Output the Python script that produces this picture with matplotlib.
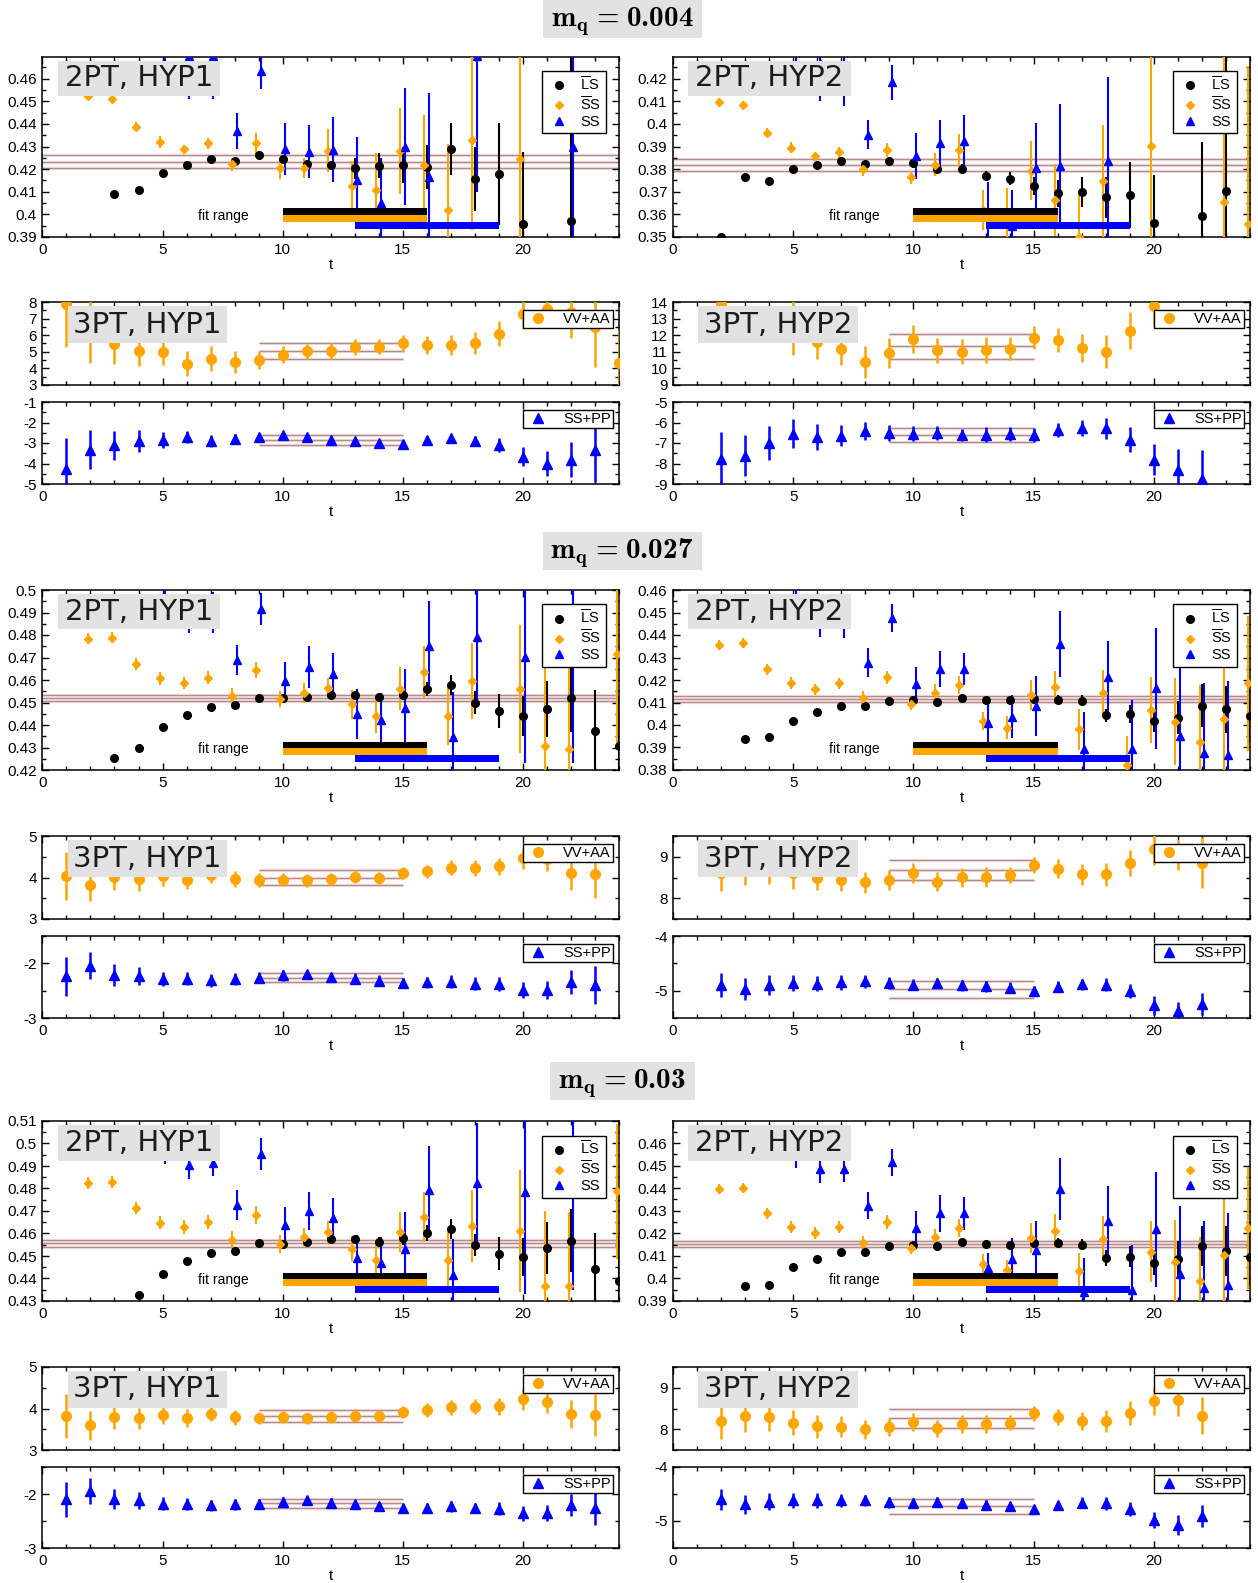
import numpy as np
import matplotlib
matplotlib.use("Agg")
import matplotlib.pyplot as plt
from matplotlib.patches import Rectangle
from matplotlib.lines import Line2D
from matplotlib.ticker import MultipleLocator, FuncFormatter

nan = np.nan
t = np.arange(25)

MASSES = ["0.004", "0.027", "0.03"]

# fit windows (first, last timeslice)
FIT_RANGE_LS = (10, 16)
FIT_RANGE_SB = (10, 16)
FIT_RANGE_SS = (13, 19)
FIT_RANGE_3PT = (9, 15)

# ---------------- m_q = 0.004 : two-point ----------------
LS_004_H1 = [nan, nan, nan, 0.4090, 0.4110, 0.4183, 0.4218, 0.4245, 0.4236, 0.4264, 0.4245, 0.4223, 0.4218,
             0.4203, 0.4215, 0.4218, 0.4208, 0.4291, 0.4156, 0.4177, 0.3956, nan, 0.3971, nan, nan]
LS_004_H1_ERR = [nan, nan, nan, 0.0005, 0.0005, 0.0006, 0.0007, 0.0008, 0.0010, 0.0010, 0.0015, 0.0015, 0.0015,
                 0.0045, 0.0055, 0.0080, 0.0098, 0.0115, 0.0140, 0.0225, 0.0320, nan, 0.0800, nan, nan]
SB_004_H1 = [nan, nan, 0.4522, 0.4510, 0.4387, 0.4320, 0.4288, 0.4314, 0.4221, 0.4314, 0.4203, 0.4206, 0.4282,
             0.4127, 0.4110, 0.4280, 0.4220, 0.4021, 0.4331, nan, 0.4243, nan, nan, nan, nan]
SB_004_H1_ERR = [nan, nan, 0.0015, 0.0015, 0.0020, 0.0025, 0.0020, 0.0025, 0.0030, 0.0045, 0.0045, 0.0045, 0.0095,
                 0.0110, 0.0160, 0.0190, 0.0220, 0.0290, 0.0400, nan, 0.0700, nan, nan, nan, nan]
SS_004_H1 = [nan, nan, nan, nan, nan, 0.4800, 0.4700, 0.4700, 0.4369, 0.4634, 0.4289, 0.4277, 0.4286,
             0.4152, 0.4050, 0.4300, 0.4166, nan, 0.4700, nan, nan, nan, 0.4300, nan, nan]
SS_004_H1_ERR = [nan, nan, nan, nan, nan, 0.0120, 0.0190, 0.0190, 0.0080, 0.0080, 0.0115, 0.0118, 0.0145,
                 0.0190, 0.0200, 0.0260, 0.0370, nan, 0.0600, nan, nan, nan, 0.0800, nan, nan]
FIT_004_H1 = (0.4233, 0.0029)

LS_004_H2 = [nan, nan, 0.3500, 0.3765, 0.3746, 0.3799, 0.3818, 0.3835, 0.3821, 0.3835, 0.3829, 0.3800, 0.3802,
             0.3770, 0.3758, 0.3727, 0.3693, 0.3699, 0.3675, 0.3685, 0.3564, nan, 0.3591, 0.3703, nan]
LS_004_H2_ERR = [nan, nan, 0.0005, 0.0005, 0.0005, 0.0006, 0.0007, 0.0008, 0.0010, 0.0015, 0.0015, 0.0020, 0.0020,
                 0.0020, 0.0030, 0.0040, 0.0060, 0.0065, 0.0090, 0.0145, 0.0210, nan, 0.0330, 0.0650, nan]
SB_004_H2 = [nan, nan, 0.4096, 0.4083, 0.3960, 0.3895, 0.3858, 0.3875, 0.3799, 0.3885, 0.3764, 0.3820, 0.3885,
             0.3620, 0.3585, 0.3793, 0.3663, 0.3500, 0.3747, nan, 0.3904, nan, nan, 0.3653, 0.3557]
SB_004_H2_ERR = [nan, nan, 0.0020, 0.0020, 0.0020, 0.0025, 0.0020, 0.0025, 0.0030, 0.0030, 0.0030, 0.0050, 0.0070,
                 0.0090, 0.0130, 0.0130, 0.0160, 0.0185, 0.0250, nan, 0.0600, nan, nan, 0.0700, 0.0700]
SS_004_H2 = [nan, nan, nan, nan, nan, 0.4400, 0.4270, 0.4260, 0.3953, 0.4184, 0.3858, 0.3914, 0.3923,
             0.3600, 0.3550, 0.3804, 0.3814, nan, 0.3836, nan, nan, nan, nan, nan, nan]
SS_004_H2_ERR = [nan, nan, nan, nan, nan, 0.0120, 0.0170, 0.0180, 0.0065, 0.0078, 0.0100, 0.0104, 0.0118,
                 0.0145, 0.0160, 0.0200, 0.0276, nan, 0.0370, nan, nan, nan, nan, nan, nan]
FIT_004_H2 = (0.3818, 0.0028)

# ---------------- m_q = 0.004 : three-point ----------------
VV_004_H1 = [nan, 7.86, 6.20, 5.45, 5.06, 4.98, 4.27, 4.57, 4.39, 4.49, 4.82, 5.04, 5.06,
             5.29, 5.31, 5.51, 5.41, 5.41, 5.53, 6.08, 7.27, 7.60, 7.40, 6.50, 4.30]
VV_004_H1_ERR = [nan, 2.60, 1.85, 1.20, 0.90, 0.80, 0.75, 0.75, 0.65, 0.55, 0.50, 0.45, 0.50,
                 0.50, 0.45, 0.50, 0.55, 0.60, 0.65, 0.75, 0.90, 1.10, 1.55, 2.40, 2.00]
SP_004_H1 = [nan, -4.27, -3.34, -3.12, -2.91, -2.85, -2.72, -2.91, -2.81, -2.72, -2.60, -2.73, -2.83,
             -2.91, -2.98, -3.03, -2.86, -2.76, -2.90, -3.09, -3.66, -4.00, -3.81, -3.32, nan]
SP_004_H1_ERR = [nan, 1.50, 0.95, 0.70, 0.55, 0.40, 0.30, 0.30, 0.25, 0.20, 0.15, 0.20, 0.15,
                 0.15, 0.15, 0.15, 0.20, 0.20, 0.25, 0.35, 0.45, 0.60, 0.85, 1.60, nan]
FIT_VV_004_H1 = (5.06, 0.47)
FIT_SP_004_H1 = (-2.86, 0.245)

VV_004_H2 = [nan, nan, 13.86, 12.80, 12.60, 12.50, 11.60, 11.18, 10.37, 10.94, 11.76, 11.10, 11.00,
             11.10, 11.18, 11.86, 11.71, 11.22, 11.00, 12.27, 13.78, nan, nan, nan, nan]
VV_004_H2_ERR = [nan, nan, 2.00, 0.90, 0.90, 1.70, 1.05, 1.00, 0.95, 0.90, 0.85, 0.75, 0.75,
                 0.80, 0.70, 0.70, 0.70, 0.85, 1.00, 1.10, 1.20, nan, nan, nan, nan]
SP_004_H2 = [nan, nan, -7.79, -7.63, -7.00, -6.54, -6.70, -6.64, -6.42, -6.50, -6.54, -6.52, -6.62,
             -6.59, -6.57, -6.60, -6.37, -6.26, -6.29, -6.84, -7.81, -8.31, -8.75, nan, nan]
SP_004_H2_ERR = [nan, nan, 1.35, 1.00, 0.85, 0.70, 0.65, 0.50, 0.45, 0.40, 0.35, 0.35, 0.30,
                 0.35, 0.35, 0.35, 0.35, 0.40, 0.50, 0.60, 0.75, 1.00, 1.40, nan, nan]
FIT_VV_004_H2 = (11.33, 0.77)
FIT_SP_004_H2 = (-6.59, 0.345)

# ---------------- m_q = 0.027 : two-point ----------------
LS_027_H1 = [nan, nan, nan, 0.4252, 0.4299, 0.4393, 0.4444, 0.4481, 0.4487, 0.4520, 0.4520, 0.4524, 0.4533,
             0.4533, 0.4524, 0.4535, 0.4560, 0.4578, 0.4499, 0.4462, 0.4441, 0.4470, 0.4519, 0.4375, 0.4308]
LS_027_H1_ERR = [nan, nan, nan, 0.0004, 0.0004, 0.0005, 0.0005, 0.0006, 0.0007, 0.0008, 0.0010, 0.0010, 0.0015,
                 0.0015, 0.0020, 0.0025, 0.0030, 0.0045, 0.0050, 0.0075, 0.0090, 0.0125, 0.0150, 0.0180, 0.0220]
SB_027_H1 = [nan, nan, 0.4784, 0.4788, 0.4671, 0.4607, 0.4585, 0.4610, 0.4530, 0.4644, 0.4516, 0.4541, 0.4563,
             0.4492, 0.4440, 0.4561, 0.4636, 0.4440, 0.4596, nan, 0.4560, 0.4308, 0.4293, nan, 0.4714]
SB_027_H1_ERR = [nan, nan, 0.0025, 0.0025, 0.0027, 0.0028, 0.0027, 0.0028, 0.0035, 0.0035, 0.0035, 0.0045, 0.0045,
                 0.0065, 0.0075, 0.0095, 0.0115, 0.0130, 0.0170, nan, 0.0285, 0.0350, 0.0470, nan, 0.0400]
SS_027_H1 = [nan, nan, nan, nan, nan, 0.5050, 0.4890, 0.4900, 0.4689, 0.4916, 0.4596, 0.4658, 0.4625,
             0.4449, 0.4422, 0.4474, 0.4753, 0.4348, 0.4793, nan, 0.4701, nan, 0.5030, nan, nan]
SS_027_H1_ERR = [nan, nan, nan, nan, nan, 0.0100, 0.0080, 0.0090, 0.0065, 0.0070, 0.0085, 0.0092, 0.0095,
                 0.0110, 0.0120, 0.0175, 0.0200, 0.0200, 0.0280, nan, 0.0470, nan, 0.0800, nan, nan]
FIT_027_H1 = (0.4519, 0.0014)

LS_027_H2 = [nan, nan, nan, 0.3939, 0.3945, 0.4019, 0.4058, 0.4083, 0.4083, 0.4108, 0.4111, 0.4104, 0.4120,
             0.4113, 0.4110, 0.4114, 0.4113, 0.4108, 0.4043, 0.4047, 0.4018, 0.4033, 0.4086, 0.4070, 0.4040]
LS_027_H2_ERR = [nan, nan, nan, 0.0004, 0.0004, 0.0005, 0.0005, 0.0006, 0.0006, 0.0008, 0.0010, 0.0010, 0.0010,
                 0.0012, 0.0015, 0.0020, 0.0020, 0.0025, 0.0030, 0.0040, 0.0050, 0.0075, 0.0095, 0.0105, 0.0120]
SB_027_H2 = [nan, nan, 0.4356, 0.4363, 0.4247, 0.4187, 0.4159, 0.4185, 0.4119, 0.4212, 0.4092, 0.4141, 0.4179,
             0.4019, 0.3988, 0.4133, 0.4167, 0.3981, 0.4141, 0.3822, 0.4067, 0.4015, 0.3926, 0.4025, 0.4185]
SB_027_H2_ERR = [nan, nan, 0.0022, 0.0022, 0.0025, 0.0025, 0.0025, 0.0025, 0.0030, 0.0030, 0.0025, 0.0040, 0.0040,
                 0.0040, 0.0050, 0.0065, 0.0075, 0.0090, 0.0105, 0.0130, 0.0145, 0.0195, 0.0250, 0.0320, 0.0300]
SS_027_H2 = [nan, nan, nan, nan, nan, 0.4550, 0.4480, 0.4480, 0.4277, 0.4477, 0.4181, 0.4249, 0.4249,
             0.4007, 0.4037, 0.4084, 0.4360, 0.3892, 0.4212, 0.3892, 0.4163, 0.3953, 0.3877, 0.3867, nan]
SS_027_H2_ERR = [nan, nan, nan, nan, nan, 0.0080, 0.0087, 0.0095, 0.0063, 0.0063, 0.0075, 0.0082, 0.0072,
                 0.0090, 0.0095, 0.0135, 0.0145, 0.0165, 0.0160, 0.0220, 0.0270, 0.0300, 0.0310, 0.0330, nan]
FIT_027_H2 = (0.4116, 0.0015)

# ---------------- m_q = 0.027 : three-point ----------------
VV_027_H1 = [nan, 4.04, 3.82, 4.01, 3.96, 4.03, 3.95, 4.05, 3.96, 3.94, 3.95, 3.93, 3.96,
             4.02, 3.99, 4.11, 4.15, 4.23, 4.23, 4.27, 4.46, 4.45, 4.11, 4.08, nan]
VV_027_H1_ERR = [nan, 0.58, 0.38, 0.30, 0.28, 0.23, 0.22, 0.18, 0.20, 0.17, 0.15, 0.15, 0.15,
                 0.15, 0.15, 0.15, 0.15, 0.18, 0.20, 0.20, 0.25, 0.30, 0.40, 0.58, nan]
SP_027_H1 = [nan, -2.24, -2.04, -2.22, -2.23, -2.29, -2.28, -2.31, -2.28, -2.26, -2.22, -2.20, -2.25,
             -2.28, -2.32, -2.36, -2.35, -2.34, -2.37, -2.38, -2.49, -2.49, -2.35, -2.40, nan]
SP_027_H1_ERR = [nan, 0.36, 0.24, 0.20, 0.17, 0.13, 0.12, 0.12, 0.11, 0.10, 0.10, 0.08, 0.08,
                 0.10, 0.10, 0.10, 0.10, 0.12, 0.12, 0.13, 0.15, 0.17, 0.22, 0.35, nan]
FIT_VV_027_H1 = (4.00, 0.17)
FIT_SP_027_H1 = (-2.26, 0.09)

VV_027_H2 = [nan, nan, 8.62, 8.66, 8.66, 8.60, 8.48, 8.45, 8.38, 8.45, 8.60, 8.40, 8.51,
             8.51, 8.56, 8.80, 8.71, 8.58, 8.58, 8.85, 9.19, 9.05, 8.86, nan, nan]
VV_027_H2_ERR = [nan, nan, 0.44, 0.34, 0.32, 0.38, 0.28, 0.27, 0.25, 0.24, 0.24, 0.23, 0.23,
                 0.24, 0.20, 0.20, 0.23, 0.25, 0.28, 0.32, 0.40, 0.36, 0.62, nan, nan]
SP_027_H2 = [nan, nan, -4.90, -4.97, -4.90, -4.86, -4.87, -4.85, -4.83, -4.86, -4.89, -4.86, -4.90,
             -4.92, -4.95, -5.00, -4.93, -4.88, -4.89, -5.01, -5.27, -5.38, -5.24, nan, nan]
SP_027_H2_ERR = [nan, nan, 0.22, 0.20, 0.18, 0.15, 0.14, 0.13, 0.12, 0.11, 0.10, 0.10, 0.10,
                 0.10, 0.10, 0.08, 0.10, 0.10, 0.12, 0.13, 0.17, 0.18, 0.20, nan, nan]
FIT_VV_027_H2 = (8.68, 0.24)
FIT_SP_027_H2 = (-4.97, 0.155)

# ---------------- m_q = 0.03 : two-point ----------------
LS_030_H1 = [nan, nan, nan, nan, 0.4325, 0.4422, 0.4477, 0.4514, 0.4523, 0.4556, 0.4555, 0.4563, 0.4575,
             0.4574, 0.4563, 0.4578, 0.4601, 0.4619, 0.4549, 0.4511, 0.4496, 0.4534, 0.4568, 0.4440, 0.4388]
LS_030_H1_ERR = [nan, nan, nan, nan, 0.0004, 0.0005, 0.0005, 0.0006, 0.0007, 0.0008, 0.0010, 0.0010, 0.0015,
                 0.0015, 0.0020, 0.0030, 0.0035, 0.0045, 0.0050, 0.0075, 0.0085, 0.0115, 0.0140, 0.0160, 0.0200]
SB_030_H1 = [nan, nan, 0.4824, 0.4829, 0.4713, 0.4648, 0.4628, 0.4650, 0.4570, 0.4683, 0.4555, 0.4583, 0.4605,
             0.4532, 0.4483, 0.4607, 0.4674, 0.4483, 0.4635, nan, 0.4611, 0.4367, 0.4367, nan, 0.4787]
SB_030_H1_ERR = [nan, nan, 0.0025, 0.0025, 0.0028, 0.0030, 0.0030, 0.0030, 0.0040, 0.0040, 0.0040, 0.0040, 0.0050,
                 0.0055, 0.0070, 0.0090, 0.0110, 0.0125, 0.0160, nan, 0.0270, 0.0335, 0.0330, nan, 0.0300]
SS_030_H1 = [nan, nan, nan, nan, nan, 0.4970, 0.4906, 0.4914, 0.4727, 0.4954, 0.4638, 0.4700, 0.4668,
             0.4489, 0.4471, 0.4529, 0.4794, 0.4414, 0.4824, nan, 0.4783, nan, 0.5120, nan, nan]
SS_030_H1_ERR = [nan, nan, nan, nan, nan, 0.0060, 0.0065, 0.0060, 0.0065, 0.0070, 0.0080, 0.0085, 0.0088,
                 0.0105, 0.0115, 0.0165, 0.0195, 0.0160, 0.0265, nan, 0.0450, nan, 0.0770, nan, nan]
FIT_030_H1 = (0.4556, 0.0015)

LS_030_H2 = [nan, nan, nan, 0.3965, 0.3972, 0.4051, 0.4088, 0.4118, 0.4118, 0.4145, 0.4147, 0.4142, 0.4161,
             0.4153, 0.4149, 0.4155, 0.4156, 0.4149, 0.4090, 0.4097, 0.4070, 0.4088, 0.4143, 0.4122, 0.4093]
LS_030_H2_ERR = [nan, nan, nan, 0.0004, 0.0004, 0.0005, 0.0005, 0.0006, 0.0006, 0.0008, 0.0010, 0.0010, 0.0012,
                 0.0012, 0.0015, 0.0020, 0.0022, 0.0025, 0.0035, 0.0045, 0.0055, 0.0080, 0.0090, 0.0110, 0.0120]
SB_030_H2 = [nan, nan, 0.4395, 0.4403, 0.4288, 0.4228, 0.4201, 0.4228, 0.4158, 0.4251, 0.4136, 0.4185, 0.4222,
             0.4063, 0.4036, 0.4180, 0.4210, 0.4032, 0.4177, nan, 0.4118, 0.4073, 0.3987, 0.4106, 0.4225]
SB_030_H2_ERR = [nan, nan, 0.0022, 0.0022, 0.0025, 0.0028, 0.0025, 0.0025, 0.0030, 0.0030, 0.0028, 0.0035, 0.0040,
                 0.0045, 0.0045, 0.0065, 0.0075, 0.0080, 0.0098, nan, 0.0135, 0.0185, 0.0195, 0.0250, 0.0270]
SS_030_H2 = [nan, nan, nan, nan, nan, 0.4550, 0.4484, 0.4484, 0.4323, 0.4515, 0.4225, 0.4288, 0.4288,
             0.4047, 0.4084, 0.4125, 0.4395, 0.3940, 0.4254, 0.3950, 0.4219, 0.4019, 0.3958, 0.3972, nan]
SS_030_H2_ERR = [nan, nan, nan, nan, nan, 0.0060, 0.0060, 0.0058, 0.0060, 0.0060, 0.0075, 0.0082, 0.0075,
                 0.0065, 0.0095, 0.0130, 0.0138, 0.0150, 0.0155, 0.0200, 0.0255, 0.0300, 0.0295, 0.0320, nan]
FIT_030_H2 = (0.4153, 0.0013)

# ---------------- m_q = 0.03 : three-point ----------------
VV_030_H1 = [nan, 3.82, 3.60, 3.79, 3.76, 3.85, 3.78, 3.87, 3.79, 3.77, 3.79, 3.76, 3.79,
             3.83, 3.82, 3.92, 3.96, 4.03, 4.04, 4.05, 4.22, 4.15, 3.87, 3.84, nan]
VV_030_H1_ERR = [nan, 0.52, 0.35, 0.28, 0.25, 0.22, 0.22, 0.18, 0.18, 0.15, 0.15, 0.14, 0.15,
                 0.15, 0.15, 0.15, 0.17, 0.18, 0.18, 0.20, 0.25, 0.26, 0.33, 0.50, nan]
SP_030_H1 = [nan, -2.10, -1.94, -2.09, -2.12, -2.18, -2.19, -2.21, -2.19, -2.18, -2.14, -2.12, -2.16,
             -2.19, -2.23, -2.26, -2.25, -2.23, -2.26, -2.27, -2.36, -2.35, -2.20, -2.26, nan]
SP_030_H1_ERR = [nan, 0.33, 0.24, 0.18, 0.15, 0.12, 0.11, 0.10, 0.10, 0.09, 0.09, 0.08, 0.08,
                 0.08, 0.08, 0.08, 0.08, 0.10, 0.10, 0.12, 0.14, 0.15, 0.20, 0.32, nan]
FIT_VV_030_H1 = (3.82, 0.155)
FIT_SP_030_H1 = (-2.17, 0.08)

VV_030_H2 = [nan, nan, 8.21, 8.31, 8.30, 8.16, 8.07, 8.06, 8.00, 8.05, 8.18, 8.02, 8.13,
             8.13, 8.16, 8.38, 8.30, 8.19, 8.20, 8.40, 8.68, 8.70, 8.33, nan, nan]
VV_030_H2_ERR = [nan, nan, 0.44, 0.37, 0.34, 0.30, 0.27, 0.25, 0.23, 0.22, 0.22, 0.20, 0.22,
                 0.22, 0.19, 0.19, 0.20, 0.22, 0.26, 0.29, 0.34, 0.38, 0.45, nan, nan]
SP_030_H2 = [nan, nan, -4.60, -4.69, -4.64, -4.62, -4.62, -4.62, -4.62, -4.65, -4.66, -4.64, -4.67,
             -4.71, -4.73, -4.77, -4.71, -4.66, -4.67, -4.77, -4.98, -5.07, -4.91, nan, nan]
SP_030_H2_ERR = [nan, nan, 0.20, 0.18, 0.16, 0.14, 0.13, 0.12, 0.11, 0.10, 0.09, 0.09, 0.09,
                 0.09, 0.09, 0.07, 0.08, 0.10, 0.12, 0.13, 0.15, 0.18, 0.20, nan, nan]
FIT_VV_030_H2 = (8.26, 0.225)
FIT_SP_030_H2 = (-4.73, 0.145)

# ---------------- style ----------------
plt.rcParams["font.family"] = ["Liberation Sans", "DejaVu Sans"]
plt.rcParams["mathtext.fontset"] = "custom"
plt.rcParams["mathtext.rm"] = "Liberation Sans"
plt.rcParams["mathtext.it"] = "Liberation Sans:italic"
plt.rcParams["mathtext.bf"] = "Liberation Sans:bold"

ORANGE = "#ffa500"
BLUE = "#0000ff"
FIT_DARK = "#b38c8c"
FIT_PALE = "#efdede"
BOX_GRAY = "#e2e2e2"

W, H = 1258, 1583
fig = plt.figure(figsize=(W / 100, H / 100), dpi=100)

COLS = [(42.4, 619.0), (673.0, 1250.0)]
ROW_2PT = [(56.5, 237.0), (590.0, 770.0), (1121.0, 1301.0)]
ROW_VV = [(302.0, 385.0), (836.0, 919.0), (1367.0, 1450.0)]
ROW_SP = [(402.0, 484.0), (936.0, 1018.0), (1467.0, 1548.0)]
TITLE_BOX = [(543, 0, 702, 38), (543, 532, 702, 570), (550, 1062, 695, 1100)]
TITLE_Y = [21, 553, 1083]

YLIM_2PT = [[(0.39, 0.4698), (0.35, 0.4298)], [(0.42, 0.50), (0.38, 0.46)], [(0.43, 0.51), (0.39, 0.4698)]]
YLIM_VV = [[(3, 8), (9, 14)], [(3, 5), (7.5, 9.5)], [(3, 5), (7.5, 9.5)]]
YLIM_SP = [[(-5, -1), (-9, -5)], [(-3, -1.5), (-5.5, -4)], [(-3, -1.5), (-5.5, -4)]]


def axes_px(x0, y0, x1, y1):
    ax = fig.add_axes([x0 / W, 1 - y1 / H, (x1 - x0) / W, (y1 - y0) / H])
    ax.px = (x0, y0, x1, y1)
    return ax


def style_axes(ax, ylim, ymajor, yminor, xlabels=True):
    ax.set_xlim(0, 24)
    ax.set_ylim(*ylim)
    ax.xaxis.set_major_locator(MultipleLocator(5))
    ax.xaxis.set_minor_locator(MultipleLocator(1))
    ax.yaxis.set_major_locator(MultipleLocator(ymajor))
    ax.yaxis.set_minor_locator(MultipleLocator(yminor))
    fmt = FuncFormatter(lambda v, _: f"{v:.4g}")
    ax.xaxis.set_major_formatter(fmt)
    ax.yaxis.set_major_formatter(fmt)
    ax.tick_params(which="both", direction="in", top=True, right=True, labelsize=11, pad=4, width=1)
    ax.tick_params(which="major", length=5)
    ax.tick_params(which="minor", length=2.8)
    for s in ax.spines.values():
        s.set_linewidth(1.1)
    if xlabels:
        ax.set_xlabel("t", fontsize=11, labelpad=1)
    else:
        ax.tick_params(labelbottom=False)


def label_box(ax, dx0, dy0, dx1, dy1, text):
    x0, y0, x1, y1 = ax.px
    w, h = x1 - x0, y1 - y0
    ax.add_patch(Rectangle((dx0 / w, 1 - dy1 / h), (dx1 - dx0) / w, (dy1 - dy0) / h,
                           transform=ax.transAxes, facecolor=BOX_GRAY, edgecolor="none",
                           zorder=10, clip_on=False))
    ax.text((dx0 + dx1) / 2 / w, 1 - (dy0 + dy1) / 2 / h, text, transform=ax.transAxes,
            ha="center", va="center", fontsize=21, family="DejaVu Sans", color="#1c1c1c", zorder=11)


def legend_px(ax, handles, labels, dx, dy, **kw):
    x0, y0, x1, y1 = ax.px
    leg = ax.legend(handles, labels, loc="upper right",
                    bbox_to_anchor=(1 - dx / (x1 - x0), 1 - dy / (y1 - y0)),
                    bbox_transform=ax.transAxes, borderaxespad=0, fancybox=False,
                    edgecolor="black", framealpha=1, fontsize=10.5, **kw)
    leg.get_frame().set_linewidth(1.0)
    leg.set_zorder(12)
    return leg


def fit_band(ax, fit, span=None):
    c, e = fit
    for v in (c - e, c, c + e):
        if span is None:
            ax.axhline(v, color=FIT_PALE, lw=2.4, zorder=1)
            ax.axhline(v, color=FIT_DARK, lw=0.9, zorder=1.1)
        else:
            ax.hlines(v, *span, color=FIT_PALE, lw=2.4, zorder=1)
            ax.hlines(v, *span, color=FIT_DARK, lw=0.9, zorder=1.1)


def draw_2pt(ax, ls, ls_err, sb, sb_err, ss, ss_err, fit, tag):
    fit_band(ax, fit)
    ax.errorbar(t, ls, yerr=ls_err, fmt="o", color="black", ms=5.5, elinewidth=1.5, capsize=0, zorder=3)
    ax.errorbar(t - 0.1, sb, yerr=sb_err, fmt="D", color=ORANGE, ms=4.0, elinewidth=1.5, capsize=0, zorder=3)
    ax.errorbar(t + 0.1, ss, yerr=ss_err, fmt="^", color=BLUE, ms=5.5, elinewidth=1.5, capsize=0, zorder=3)

    # fit-range bars along the bottom of the panel
    tr = ax.get_xaxis_transform()
    for (a, b), (lo, hi), col in ((FIT_RANGE_LS, (0.120, 0.158), "black"),
                                  (FIT_RANGE_SB, (0.082, 0.120), ORANGE),
                                  (FIT_RANGE_SS, (0.044, 0.084), BLUE)):
        ax.add_patch(Rectangle((a, lo), b - a, hi - lo, transform=tr, facecolor=col,
                               edgecolor="none", zorder=4))
    ax.text(7.55, 0.118, "fit range", transform=tr, ha="center", va="center", fontsize=10, zorder=4)

    label_box(ax, 15.1, 4.0, 177.6, 39.5, tag)
    handles = [Line2D([], [], ls="none", marker="o", color="black", ms=5.5),
               Line2D([], [], ls="none", marker="D", color=ORANGE, ms=4.0),
               Line2D([], [], ls="none", marker="^", color=BLUE, ms=5.5)]
    labels = [r"$\overline{\mathrm{L}}$S", r"$\overline{\mathrm{S}}$S", "SS"]
    legend_px(ax, handles, labels, 13.5, 14.5, handlelength=1.7, handletextpad=0.6,
              labelspacing=0.1, borderpad=0.3)


def draw_3pt(ax_vv, ax_sp, vv, vv_err, sp, sp_err, fit_vv, fit_sp, tag):
    fit_band(ax_vv, fit_vv, FIT_RANGE_3PT)
    fit_band(ax_sp, fit_sp, FIT_RANGE_3PT)
    ax_vv.errorbar(t, vv, yerr=vv_err, fmt="o", color=ORANGE, ms=7, elinewidth=1.8, capsize=0, zorder=3)
    ax_sp.errorbar(t, sp, yerr=sp_err, fmt="^", color=BLUE, ms=7.5, elinewidth=1.8, capsize=0, zorder=3)
    label_box(ax_vv, 25.2, 4.0, 184.6, 41.0, tag)
    legend_px(ax_vv, [Line2D([], [], ls="none", marker="o", color=ORANGE, ms=7)], ["VV+AA"],
              6.5, 8.0, handlelength=1.8, handletextpad=0.8, borderpad=0.12)
    legend_px(ax_sp, [Line2D([], [], ls="none", marker="^", color=BLUE, ms=7)], ["SS+PP"],
              6.5, 8.0, handlelength=1.8, handletextpad=0.8, borderpad=0.12)


two_pt = [
    [(LS_004_H1, LS_004_H1_ERR, SB_004_H1, SB_004_H1_ERR, SS_004_H1, SS_004_H1_ERR, FIT_004_H1),
     (LS_004_H2, LS_004_H2_ERR, SB_004_H2, SB_004_H2_ERR, SS_004_H2, SS_004_H2_ERR, FIT_004_H2)],
    [(LS_027_H1, LS_027_H1_ERR, SB_027_H1, SB_027_H1_ERR, SS_027_H1, SS_027_H1_ERR, FIT_027_H1),
     (LS_027_H2, LS_027_H2_ERR, SB_027_H2, SB_027_H2_ERR, SS_027_H2, SS_027_H2_ERR, FIT_027_H2)],
    [(LS_030_H1, LS_030_H1_ERR, SB_030_H1, SB_030_H1_ERR, SS_030_H1, SS_030_H1_ERR, FIT_030_H1),
     (LS_030_H2, LS_030_H2_ERR, SB_030_H2, SB_030_H2_ERR, SS_030_H2, SS_030_H2_ERR, FIT_030_H2)],
]
three_pt = [
    [(VV_004_H1, VV_004_H1_ERR, SP_004_H1, SP_004_H1_ERR, FIT_VV_004_H1, FIT_SP_004_H1),
     (VV_004_H2, VV_004_H2_ERR, SP_004_H2, SP_004_H2_ERR, FIT_VV_004_H2, FIT_SP_004_H2)],
    [(VV_027_H1, VV_027_H1_ERR, SP_027_H1, SP_027_H1_ERR, FIT_VV_027_H1, FIT_SP_027_H1),
     (VV_027_H2, VV_027_H2_ERR, SP_027_H2, SP_027_H2_ERR, FIT_VV_027_H2, FIT_SP_027_H2)],
    [(VV_030_H1, VV_030_H1_ERR, SP_030_H1, SP_030_H1_ERR, FIT_VV_030_H1, FIT_SP_030_H1),
     (VV_030_H2, VV_030_H2_ERR, SP_030_H2, SP_030_H2_ERR, FIT_VV_030_H2, FIT_SP_030_H2)],
]

for r, mq in enumerate(MASSES):
    bx0, by0, bx1, by1 = TITLE_BOX[r]
    fig.add_artist(Rectangle((bx0 / W, 1 - by1 / H), (bx1 - bx0) / W, (by1 - by0) / H,
                             transform=fig.transFigure, facecolor=BOX_GRAY, edgecolor="none", zorder=0))
    # bold Computer Modern for the mass label; digits set in cmb10 directly
    fig.text(622 / W, 1 - TITLE_Y[r] / H, r"$\mathbf{m_q}\;$=$\;$" + mq, family="cmb10",
             math_fontfamily="cm", fontsize=21, ha="center", va="center", zorder=1)

    for c, (x0, x1) in enumerate(COLS):
        hyp = f"HYP{c + 1}"
        ax2 = axes_px(x0, ROW_2PT[r][0], x1, ROW_2PT[r][1])
        style_axes(ax2, YLIM_2PT[r][c], 0.01, 0.005)
        ls, ls_e, sb, sb_e, ss, ss_e, fit = two_pt[r][c]
        draw_2pt(ax2, np.array(ls), np.array(ls_e), np.array(sb), np.array(sb_e),
                 np.array(ss), np.array(ss_e), fit, f"2PT, {hyp}")

        ax_vv = axes_px(x0, ROW_VV[r][0], x1, ROW_VV[r][1])
        ax_sp = axes_px(x0, ROW_SP[r][0], x1, ROW_SP[r][1])
        style_axes(ax_vv, YLIM_VV[r][c], 1, 0.5, xlabels=False)
        style_axes(ax_sp, YLIM_SP[r][c], 1, 0.5)
        vv, vv_e, sp, sp_e, fvv, fsp = three_pt[r][c]
        draw_3pt(ax_vv, ax_sp, np.array(vv), np.array(vv_e), np.array(sp), np.array(sp_e),
                 fvv, fsp, f"3PT, {hyp}")

fig.savefig("out.png", dpi=100)
